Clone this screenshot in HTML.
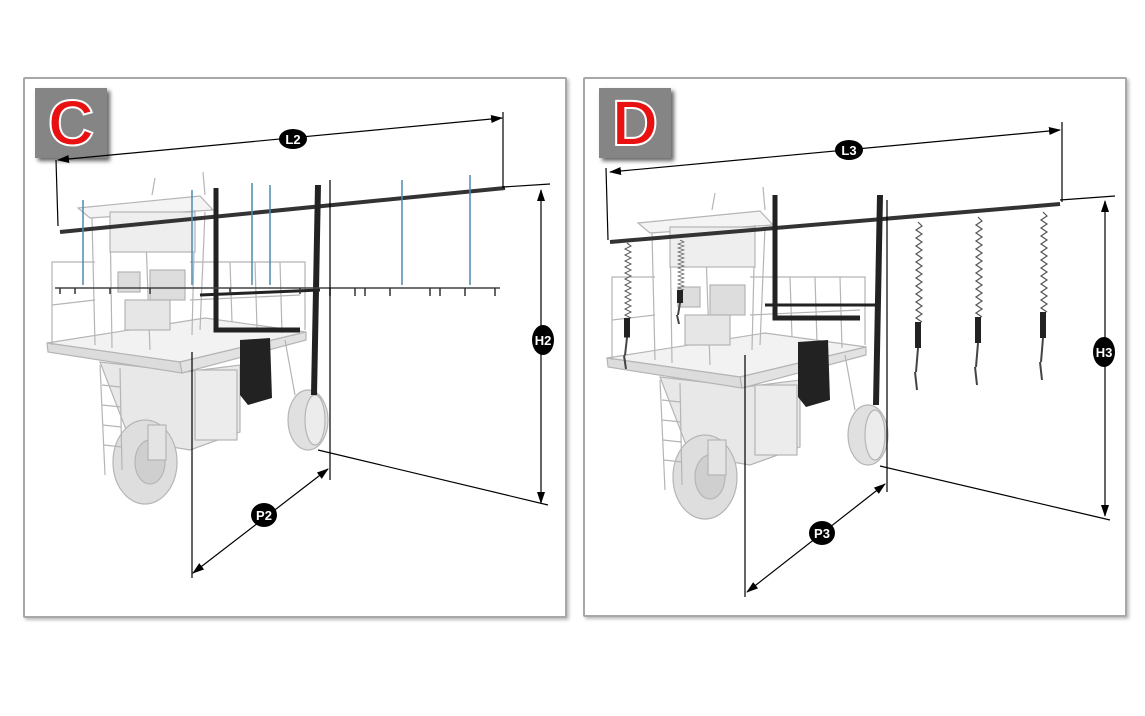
<!DOCTYPE html>
<html><head><style>
html,body{margin:0;padding:0;background:#fff;}
body{width:1145px;height:716px;overflow:hidden;position:relative;font-family:"Liberation Sans",sans-serif;}
.panel{position:absolute;border:2px solid #a8a8a8;background:#fff;box-shadow:2px 2px 3px #bbb;border-radius:2px;}
.tag{position:absolute;width:72px;height:70px;background:#858585;box-shadow:3px 3px 4px #666;}
.tag span{position:absolute;left:0;right:0;top:-2px;text-align:center;font:bold 64px "Liberation Sans",sans-serif;color:#e81010;-webkit-text-stroke:2px #fff;}
svg{position:absolute;left:0;top:0;}
</style></head><body>
<div class="panel" style="left:23px;top:77px;width:540px;height:537px;"></div>
<div class="panel" style="left:583px;top:77px;width:540px;height:536px;"></div>
<div class="tag" style="left:35px;top:88px;"><span>C</span></div>
<div class="tag" style="left:599px;top:88px;"><span>D</span></div>
<svg width="1145" height="716" viewBox="0 0 1145 716">
<defs>
<marker id="ar" markerWidth="12" markerHeight="8" refX="11" refY="4" orient="auto-start-reverse" markerUnits="userSpaceOnUse">
<path d="M0,0 L12,4 L0,8 z" fill="#000"/></marker>
<path id="spr" d="M0,0 l4,4 l-6,4 l6,4 l-6,4 l6,4 l-6,4 l6,4 l-6,4 l6,4 l-6,4 l6,4 l-6,4 l6,4 l-6,4 l6,4 l-6,4 l6,4 l-6,4 l6,4 l-6,4 l6,4 l-6,4 l6,4 l-6,4 l6,4" fill="none" stroke="#555" stroke-width="1.2"/>
<g id="hang">
<use href="#spr"/>
<rect x="-3" y="100" width="6" height="26" fill="#222"/>
<path d="M0,126 L-2,150 M-3,150 L-1,168" stroke="#444" stroke-width="2" fill="none"/>
</g>
<g id="mach" stroke="#b5b5b5" stroke-width="1.2" fill="none">
<path d="M100,362 L185,372 L240,365 L240,432 L190,450 L130,440 Z" fill="#e8e8e8"/>
<rect x="195" y="370" width="42" height="70" fill="#ececec"/>
<path d="M47,343 L180,362 L306,332 L205,318 Z" fill="#f2f2f2"/>
<path d="M47,343 L180,362 L182,373 L48,352 Z" fill="#dcdcdc"/>
<path d="M180,362 L306,332 L306,340 L182,373 Z" fill="#e2e2e2"/>
<ellipse cx="145" cy="462" rx="32" ry="42" fill="#dedede"/>
<ellipse cx="150" cy="462" rx="15" ry="22" fill="#cfcfcf"/>
<rect x="148" y="425" width="18" height="35" fill="#e4e4e4"/>
<ellipse cx="308" cy="420" rx="20" ry="30" fill="#e0e0e0"/>
<ellipse cx="315" cy="420" rx="10" ry="25" fill="#ececec"/>
<path d="M285,340 L295,395" />
<path d="M100,365 L105,475 M120,368 L122,470 M102,385 L120,387 M102,405 L121,407 M103,425 L121,427 M104,445 L122,447"/>
<path d="M78,208 L200,196 L213,210 L90,218 Z" fill="#f4f4f4"/>
<path d="M92,218 L95,345 M110,216 L112,348 M145,212 L150,350 M195,210 L192,335 M205,212 L200,330"/>
<rect x="110" y="212" width="85" height="40" fill="#eee"/>
<rect x="150" y="270" width="35" height="30" fill="#ddd"/>
<rect x="118" y="272" width="22" height="20" fill="#ddd"/>
<rect x="125" y="300" width="45" height="30" fill="#e6e6e6"/>
<path d="M52,345 L52,262 L95,262 M52,305 L95,300 M190,262 L305,262 L305,330 M190,300 L300,295 M230,262 L232,322 M255,262 L257,328 M280,262 L282,333"/>
<path d="M152,195 L155,178 M205,195 L203,172" />
</g>
<g id="box"><path d="M240,340 L270,338 L272,398 L248,405 L240,395 Z" fill="#222"/></g>
</defs>

<use href="#mach"/>
<use href="#box"/>
<g stroke="#222" fill="none">
<path d="M60,232 L505,188" stroke-width="4" stroke="#333"/>
<path d="M216,188 L216,330 L300,330" stroke-width="5"/>
<path d="M318,185 L314,395" stroke-width="6"/>
<path d="M200,295 L320,290" stroke-width="3"/>
<path d="M55,288 L500,288" stroke-width="1.5" stroke="#444"/>
<g stroke="#4c8bb0" stroke-width="1.5">
<path d="M83,200 L83,285 M192,190 L192,285 M252,183 L252,285 M270,185 L270,285 M402,180 L402,285 M470,175 L470,285"/>
</g>
<g stroke="#333" stroke-width="1.5">
<path d="M60,288 v6 M75,288 v6 M110,288 v6 M150,288 v6 M230,288 v6 M300,288 v6 M330,288 v8 M355,288 v8 M365,288 v8 M390,288 v8 M430,288 v8 M440,288 v8 M465,288 v8 M495,288 v8"/>
</g>
</g>
<g stroke="#000" stroke-width="1.2" fill="none">
<path d="M56,160 L58,226"/>
<path d="M503,112 L503,188"/>
<line x1="58" y1="160" x2="502" y2="118" marker-start="url(#ar)" marker-end="url(#ar)"/>
<path d="M503,187 L550,184"/>
<path d="M318,450 L548,505"/>
<line x1="541" y1="190" x2="541" y2="503" marker-start="url(#ar)" marker-end="url(#ar)"/>
<path d="M192,352 L192,578"/>
<path d="M330,180 L330,480"/>
<line x1="328" y1="469" x2="193" y2="573" marker-start="url(#ar)" marker-end="url(#ar)"/>
</g>

<g transform="translate(560,15)"><use href="#mach"/></g>
<g transform="translate(558,2)"><use href="#box"/></g>
<g stroke="#222" fill="none">
<path d="M610,242 L1060,204" stroke-width="4" stroke="#333"/>
<path d="M775,195 L775,318 L860,318" stroke-width="5"/>
<path d="M765,305 L875,305" stroke-width="3"/>
<path d="M880,195 L876,405" stroke-width="6"/>
</g>
<use href="#hang" transform="translate(627,243) scale(1,0.75)"/>
<use href="#hang" transform="translate(680,240) scale(1,0.5)"/>
<use href="#hang" transform="translate(918,222)"/>
<use href="#hang" transform="translate(978,217)"/>
<use href="#hang" transform="translate(1043,212)"/>
<g stroke="#000" stroke-width="1.2" fill="none">
<path d="M606,168 L608,240"/>
<path d="M1062,122 L1062,202"/>
<line x1="610" y1="172" x2="1060" y2="130" marker-start="url(#ar)" marker-end="url(#ar)"/>
<path d="M1060,200 L1115,196"/>
<path d="M880,466 L1110,520"/>
<line x1="1105" y1="201" x2="1105" y2="516" marker-start="url(#ar)" marker-end="url(#ar)"/>
<path d="M745,355 L745,597"/>
<path d="M887,200 L887,492"/>
<line x1="885" y1="484" x2="747" y2="592" marker-start="url(#ar)" marker-end="url(#ar)"/>
</g>

<g font-family="Liberation Sans, sans-serif" font-weight="bold" font-size="13" fill="#fff" text-anchor="middle">
<ellipse cx="293" cy="139" rx="14" ry="10" fill="#000"/><text x="293" y="144">L2</text>
<ellipse cx="543" cy="340" rx="11" ry="15" fill="#000"/><text x="543" y="345">H2</text>
<ellipse cx="264" cy="515" rx="13" ry="12" fill="#000"/><text x="264" y="520">P2</text>
<ellipse cx="849" cy="150" rx="14" ry="10" fill="#000"/><text x="849" y="155">L3</text>
<ellipse cx="1104" cy="352" rx="11" ry="15" fill="#000"/><text x="1104" y="357">H3</text>
<ellipse cx="822" cy="533" rx="13" ry="12" fill="#000"/><text x="822" y="538">P3</text>
</g>
</svg>
</body></html>
